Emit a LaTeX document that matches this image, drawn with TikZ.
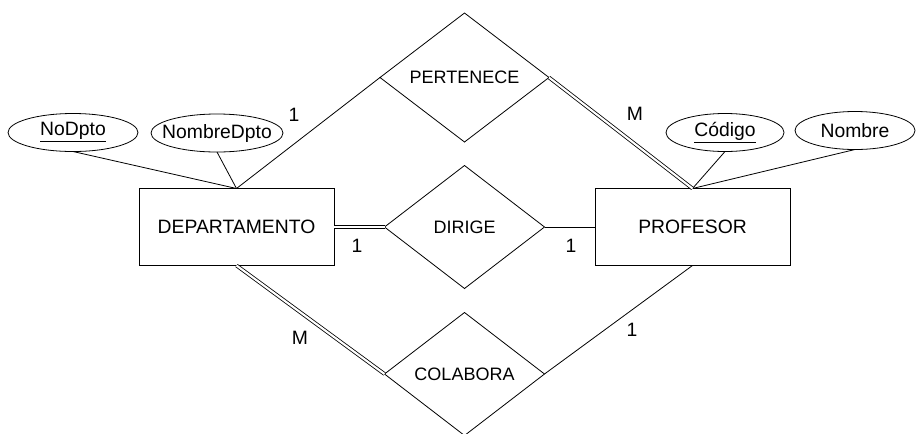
\documentclass[tikz,border=0pt]{standalone}
\usepackage{fontspec}
\setmainfont{Liberation Sans}
\usetikzlibrary{shapes.geometric}

\begin{document}
\begin{tikzpicture}[x=0.75pt, y=-0.75pt, line width=0.6pt,
    entidad/.style={draw, rectangle, outer sep=0pt, minimum width=195*0.75pt, minimum height=77*0.75pt, font=\fontsize{14.5}{17}\selectfont},
    relacion/.style={draw, diamond, outer sep=0pt, inner sep=0pt, minimum width=160*0.75pt, minimum height=123*0.75pt, font=\fontsize{13.5}{16}\selectfont},
    atributo/.style={draw, ellipse, outer sep=0pt, inner xsep=-12pt, inner ysep=0pt, minimum height=38*0.75pt, font=\fontsize{14.5}{17}\selectfont},
    doble/.style={double, double distance=1.6pt},
    card/.style={font=\fontsize{14.5}{17}\selectfont, inner sep=0pt}]

    % --- marco del dibujo ---
    \useasboundingbox (0, 0) rectangle (916, 433);

    % --- entidades ---
    \node[entidad] (depto) at (236.5, 227) {DEPARTAMENTO};
    \node[entidad] (profesor) at (692.5, 227) {PROFESOR};

    % --- relaciones ---
    \node[relacion, minimum width=169*0.75pt, minimum height=129*0.75pt] (pertenece) at (464.5, 77.5) {PERTENECE};
    \node[relacion] (dirige) at (464.5, 227) {DIRIGE};
    \node[relacion] (colabora) at (464.5, 374) {COLABORA};

    % --- atributos ---
    \node[atributo, minimum width=130*0.75pt] (nodpto) at (73, 132.5) {\underline{NoDpto}};
    \node[atributo, minimum width=132*0.75pt] (nombredpto) at (217, 133) {NombreDpto};
    \node[atributo, minimum width=118*0.75pt] (codigo) at (725, 132.5) {\underline{Código}};
    \node[atributo, minimum width=120*0.75pt] (nombre) at (855, 130.5) {Nombre};

    % --- atributos a entidades ---
    \draw (nodpto.south) -- (depto.north);
    \draw (nombredpto.south) -- (depto.north);
    \draw (codigo.south) -- (profesor.north);
    \draw (nombre.south) -- (profesor.north);

    % --- entidades a relaciones ---
    \draw (pertenece.west) -- (depto.north);
    \draw[doble] (pertenece.east) -- (profesor.north);
    \draw[doble] (depto.east) -- (dirige.west);
    \draw (dirige.east) -- (profesor.west);
    \draw[doble] (depto.south) -- (colabora.west);
    \draw (colabora.east) -- (profesor.south);

    % --- cardinalidades ---
    \node[card] (cpd) at (294, 115) {1};
    \node[card] (cpp) at (635, 114) {M};
    \node[card] (cdd) at (357, 246) {1};
    \node[card] (cdp) at (571, 246) {1};
    \node[card] (ccd) at (300, 338) {M};
    \node[card] (ccp) at (632, 330) {1};

\end{tikzpicture}
\end{document}
